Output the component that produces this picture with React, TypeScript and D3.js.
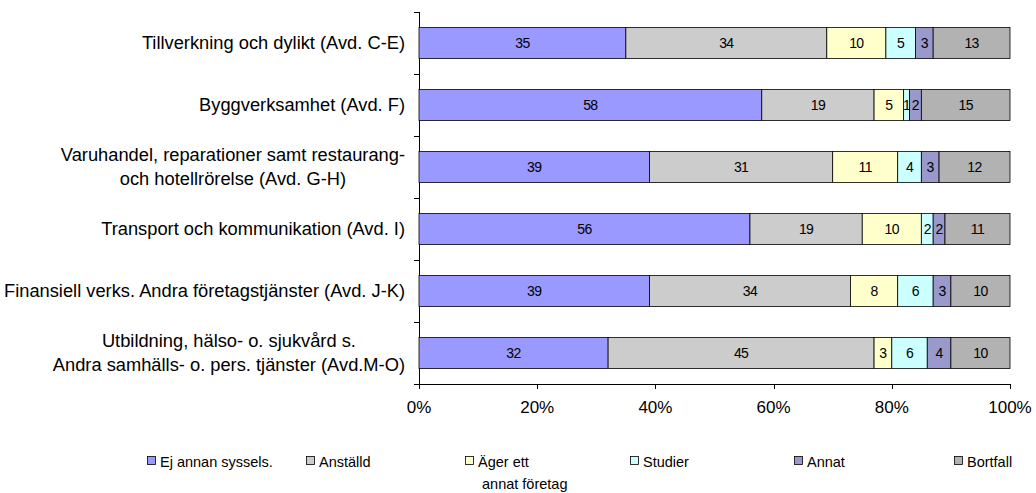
import React, { useEffect, useRef } from "react";
import * as d3 from "d3";

const categories: string[][] = [
  ["Tillverkning och dylikt (Avd. C-E)"],
  ["Byggverksamhet (Avd. F)"],
  ["Varuhandel, reparationer samt restaurang-", "och hotellrörelse (Avd. G-H)"],
  ["Transport och kommunikation (Avd. I)"],
  ["Finansiell verks. Andra företagstjänster (Avd. J-K)"],
  ["Utbildning, hälso- o. sjukvård s.", "Andra samhälls- o. pers. tjänster (Avd.M-O)"],
];
const seriesNames: string[][] = [
  ["Ej annan syssels."],
  ["Anställd"],
  ["Äger ett", "annat företag"],
  ["Studier"],
  ["Annat"],
  ["Bortfall"],
];
const ejAnnan = [35, 58, 39, 56, 39, 32];
const anstalld = [34, 19, 31, 19, 34, 45];
const agerEtt = [10, 5, 11, 10, 8, 3];
const studier = [5, 1, 4, 2, 6, 6];
const annat = [3, 2, 3, 2, 3, 4];
const bortfall = [13, 15, 12, 11, 10, 10];
const seriesValues = [ejAnnan, anstalld, agerEtt, studier, annat, bortfall];
const colors = ["#9999FF", "#CCCCCC", "#FFFFCC", "#CCFFFF", "#9999CC", "#B2B2B2"];
const xTicks = [0, 0.2, 0.4, 0.6, 0.8, 1.0];

export default function App() {
  const ref = useRef<SVGSVGElement>(null);
  useEffect(() => {
    const svg = d3.select(ref.current);
    svg.selectAll("*").remove();
    const W = 1036, H = 493;
    const left = 419, right = 1010, top = 12, bottom = 384;
    const font = "Liberation Sans, Arial, sans-serif";
    const fs = 17;
    const catFs = 18.3;
    const legFs = 14.5;
    const x = d3.scaleLinear().domain([0, 1]).range([left, right]);
    const idx = categories.map((_, i) => i);
    const y = d3.scaleBand<number>().domain(idx).range([top, bottom]).paddingInner(0.5).paddingOuter(0.25);

    svg.append("line").attr("x1", left + 0.5).attr("x2", left + 0.5).attr("y1", top).attr("y2", bottom).attr("stroke", "#000");
    svg.append("line").attr("x1", left).attr("x2", right).attr("y1", bottom + 0.5).attr("y2", bottom + 0.5).attr("stroke", "#000");
    const bandStep = (bottom - top) / categories.length;
    for (let i = 0; i <= categories.length; i++) {
      const yy = Math.round(top + i * bandStep) + 0.5;
      svg.append("line").attr("x1", left - 5).attr("x2", left).attr("y1", yy).attr("y2", yy).attr("stroke", "#000");
    }
    xTicks.forEach((t) => {
      const xx = Math.round(x(t)) + 0.5;
      svg.append("line").attr("x1", xx).attr("x2", xx).attr("y1", bottom).attr("y2", bottom + 5).attr("stroke", "#000");
      svg.append("text").attr("x", x(t)).attr("y", bottom + 29).attr("text-anchor", "middle")
        .attr("font-family", font).attr("font-size", fs).text(d3.format(".0%")(t));
    });

    idx.forEach((i) => {
      const total = d3.sum(seriesValues, (s) => s[i]);
      let cum = 0;
      seriesValues.forEach((s, k) => {
        const v = s[i];
        const x0 = x(cum / total);
        const x1 = x((cum + v) / total);
        cum += v;
        svg.append("rect").attr("x", x0).attr("y", y(i)!).attr("width", x1 - x0).attr("height", y.bandwidth())
          .attr("fill", colors[k]).attr("stroke", "#000").attr("stroke-width", 0.8);
        svg.append("text").attr("x", (x0 + x1) / 2).attr("y", y(i)! + y.bandwidth() / 2 + 5)
          .attr("text-anchor", "middle").attr("font-family", font).attr("font-size", 14).attr("letter-spacing", -0.6)
          .text(v);
      });
    });

    const labelRight = 405;
    idx.forEach((i) => {
      const lines = categories[i];
      const g = svg.append("g");
      const texts = lines.map((ln) => g.append("text").attr("font-family", font).attr("font-size", catFs).attr("text-anchor", "middle").text(ln));
      const widths = texts.map((t) => (t.node() as SVGTextElement).getComputedTextLength());
      const maxW = Math.max(...widths);
      const cx = labelRight - maxW / 2;
      const lh = 24;
      const cy = y(i)! + y.bandwidth() / 2;
      texts.forEach((t, j) => {
        t.attr("x", cx).attr("y", cy + (j - (lines.length - 1) / 2) * lh + 6);
      });
    });

    const legX = [147, 306, 465, 630, 794, 954];
    const legY = 461;
    seriesNames.forEach((nm, k) => {
      svg.append("rect").attr("x", legX[k] + 0.5).attr("y", legY - 4.5).attr("width", 8).attr("height", 8)
        .attr("fill", colors[k]).attr("stroke", "#000").attr("stroke-width", 0.8);
      nm.forEach((ln, j) => {
        svg.append("text").attr("x", legX[k] + 13 + (j > 0 ? 4 : 0)).attr("y", legY + 5.5 + j * 22)
          .attr("font-family", font).attr("font-size", legFs).text(ln);
      });
    });
    svg.attr("width", W).attr("height", H);
  }, []);
  return (
    <svg ref={ref} width={1036} height={493} style={{ position: "absolute", left: 0, top: 0, background: "#fff" }} />
  );
}
